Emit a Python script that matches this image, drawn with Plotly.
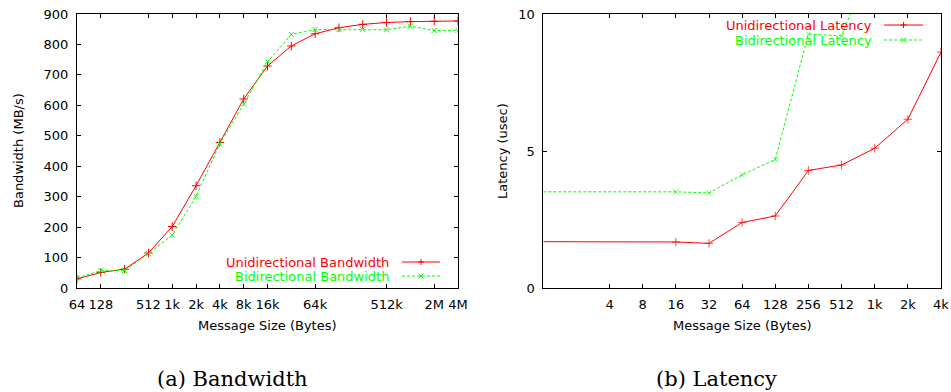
import math
import plotly.graph_objects as go

# ---------------- data ----------------
bw_sizes = [64, 128, 256, 512, 1024, 2048, 4096, 8192, 16384, 32768, 65536,
            131072, 262144, 524288, 1048576, 2097152, 4194304]
uni_bw = [30, 51, 62, 115, 202, 336, 478, 621, 729, 795, 835, 855, 866, 872, 875, 876, 877]
bi_bw = [33, 57, 57, 113, 174, 301, 474, 604, 743, 833, 849, 849, 849, 848, 860, 846, 846]
bw_tickvals = [64, 128, 512, 1024, 2048, 4096, 8192, 16384, 65536, 524288, 2097152, 4194304]
bw_ticktext = ["64", "128", "512", "1k", "2k", "4k", "8k", "16k", "64k", "512k", "2M", "4M"]

lat_sizes = [1, 16, 32, 64, 128, 256, 512, 1024, 2048, 4096]
uni_lat = [1.69, 1.68, 1.63, 2.39, 2.63, 4.29, 4.49, 5.10, 6.16, 8.61]
bi_lat = [3.51, 3.51, 3.47, 4.13, 4.69, 9.27, 9.20, 12.2, 13.5, 16.5]
lat_tickvals = [4, 8, 16, 32, 64, 128, 256, 512, 1024, 2048, 4096]
lat_ticktext = ["4", "8", "16", "32", "64", "128", "256", "512", "1k", "2k", "4k"]

# ---------------- style ----------------
W, H = 951, 392
RED = "#ff0000"
GREEN = "#00ff00"
SANS = "DejaVu Sans"
SERIF = "DejaVu Serif"
FS = 13
DASH = "3px,2px"


def px(x):
    return x / W


def py(y):
    return 1 - y / H


fig = go.Figure()

# hide the marker on the first (left-edge) latency point
lat_msize_uni = [0] + [6] * (len(lat_sizes) - 1)
lat_msize_bi = [0] + [5] * (len(lat_sizes) - 1)

fig.add_trace(go.Scatter(x=bw_sizes, y=uni_bw, mode="lines+markers",
                         line=dict(color=RED, width=1),
                         marker=dict(symbol="cross-thin", size=6, line=dict(color=RED, width=1)),
                         xaxis="x", yaxis="y", showlegend=False))
fig.add_trace(go.Scatter(x=bw_sizes, y=bi_bw, mode="lines+markers",
                         line=dict(color=GREEN, width=1, dash=DASH),
                         marker=dict(symbol="x-thin", size=5, line=dict(color=GREEN, width=1)),
                         xaxis="x", yaxis="y", showlegend=False))
fig.add_trace(go.Scatter(x=lat_sizes, y=uni_lat, mode="lines+markers",
                         line=dict(color=RED, width=1),
                         marker=dict(symbol="cross-thin", size=lat_msize_uni, line=dict(color=RED, width=1)),
                         xaxis="x2", yaxis="y2", showlegend=False))
fig.add_trace(go.Scatter(x=lat_sizes, y=bi_lat, mode="lines+markers",
                         line=dict(color=GREEN, width=1, dash=DASH),
                         marker=dict(symbol="x-thin", size=lat_msize_bi, line=dict(color=GREEN, width=1)),
                         xaxis="x2", yaxis="y2", showlegend=False))

# plot-area geometry (pixels)
L1, R1 = 77, 458
L2, R2 = 543.3, 941
TOP, BOT = 14, 288

axis_common = dict(showline=True, linecolor="black", linewidth=1, mirror="ticks",
                   ticks="inside", ticklen=4, tickwidth=1, tickcolor="black",
                   showgrid=False, zeroline=False, automargin=False,
                   tickfont=dict(family=SANS, size=FS, color="black"))

fig.update_layout(
    width=W, height=H,
    margin=dict(l=0, r=0, t=0, b=0, autoexpand=False),
    paper_bgcolor="white", plot_bgcolor="white",
    xaxis=dict(domain=[px(L1), px(R1)], type="log",
               range=[math.log10(64), math.log10(4194304)],
               tickvals=bw_tickvals, ticktext=bw_ticktext, anchor="y",
               ticklabelstandoff=4, **axis_common),
    yaxis=dict(domain=[py(BOT), py(TOP)], range=[0, 900], tickvals=list(range(0, 901, 100)),
               anchor="x", ticklabelstandoff=5, **axis_common),
    xaxis2=dict(domain=[px(L2), px(R2)], type="log",
                range=[0, math.log10(4096)],
                tickvals=lat_tickvals, ticktext=lat_ticktext, anchor="y2",
                ticklabelstandoff=4, **axis_common),
    yaxis2=dict(domain=[py(BOT), py(TOP)], range=[0, 10], tickvals=[0, 5, 10],
                anchor="x2", ticklabelstandoff=5, **axis_common),
)

ann = []


def text(x, y, s, color="black", size=FS, family=SANS, xanchor="center", angle=0):
    ann.append(dict(x=px(x), y=py(y), xref="paper", yref="paper", text=s, showarrow=False,
                    font=dict(family=family, size=size, color=color),
                    xanchor=xanchor, yanchor="middle", textangle=angle))


# axis titles
text(18, 151, "Bandwidth (MB/s)", angle=-90)
text(267.5, 325, "Message Size (Bytes)")
text(502, 151, "Latency (usec)", angle=-90)
text(742, 325, "Message Size (Bytes)")

# captions
text(232, 379, "(a) Bandwidth", size=21, family=SERIF)
text(716, 379, "(b) Latency", size=21, family=SERIF)

# legends (gnuplot style: text then sample)
text(391, 262, "Unidirectional Bandwidth", color=RED, xanchor="right")
text(391, 276, "Bidirectional Bandwidth", color=GREEN, xanchor="right")
text(874, 25, "Unidirectional Latency", color=RED, xanchor="right")
text(874, 40, "Bidirectional Latency", color=GREEN, xanchor="right")

fig.update_layout(annotations=ann)

shapes = []


def sample(x0, x1, y, color, dash, sym):
    shapes.append(dict(type="line", xref="paper", yref="paper",
                       x0=px(x0), x1=px(x1), y0=py(y), y1=py(y),
                       line=dict(color=color, width=1, dash=dash)))
    xm = (x0 + x1) / 2
    a = 3 if sym == "+" else 2.5
    if sym == "+":
        path = (f"M{px(xm - a)},{py(y)} L{px(xm + a)},{py(y)} "
                f"M{px(xm)},{py(y - a)} L{px(xm)},{py(y + a)}")
    else:
        path = (f"M{px(xm - a)},{py(y - a)} L{px(xm + a)},{py(y + a)} "
                f"M{px(xm - a)},{py(y + a)} L{px(xm + a)},{py(y - a)}")
    shapes.append(dict(type="path", xref="paper", yref="paper", path=path,
                       line=dict(color=color, width=1)))


sample(402, 440, 262, RED, "solid", "+")
sample(402, 440, 276, GREEN, DASH, "x")
sample(884, 923, 25, RED, "solid", "+")
sample(884, 923, 40, GREEN, DASH, "x")

fig.update_layout(shapes=shapes)

fig.write_html("out.html", config={"displayModeBar": False, "staticPlot": True},
               post_script="document.body.style.margin='0px';document.body.style.overflow='hidden';")
